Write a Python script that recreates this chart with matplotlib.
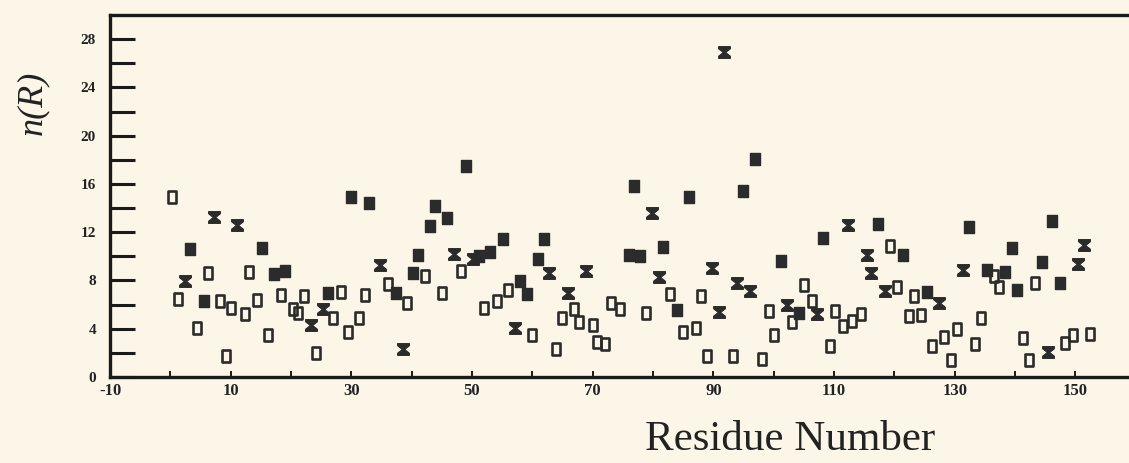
import matplotlib
matplotlib.use("Agg")
import matplotlib.pyplot as plt
from matplotlib.path import Path
from matplotlib.ticker import FixedLocator, NullFormatter

# ---- data ----
open_x = [0.2, 1.3, 4.5, 6.2, 8.2, 9.3, 10.1, 12.3, 13.1, 14.4, 16.2, 18.3, 20.3, 21.1,
          22.2, 24.2, 26.9, 28.3, 29.4, 31.3, 32.3, 36.0, 39.2, 42.2, 45.1, 48.2, 52.0,
          54.2, 55.9, 59.9, 63.9, 65.0, 66.9, 67.8, 70.0, 70.8, 72.0, 73.0, 74.5, 78.8,
          82.9, 85.0, 87.1, 88.0, 88.9, 93.2, 98.1, 99.2, 100.0, 103.1, 105.1, 106.3,
          109.3, 110.2, 111.5, 113.0, 114.4, 119.3, 120.5, 122.4, 123.3, 124.5, 126.3,
          128.3, 129.4, 130.4, 133.4, 134.4, 136.6, 137.3, 141.4, 142.4, 143.3, 148.3,
          149.6, 152.4]
open_y = [14.9, 6.5, 4.1, 8.6, 6.3, 1.7, 5.7, 5.2, 8.7, 6.4, 3.5, 6.8, 5.6, 5.3,
          6.7, 2.0, 4.9, 7.05, 3.7, 4.9, 6.8, 7.7, 6.15, 8.4, 7.0, 8.8, 5.75,
          6.3, 7.25, 3.45, 2.3, 4.9, 5.65, 4.55, 4.35, 2.9, 2.7, 6.15, 5.6, 5.3,
          6.85, 3.7, 4.1, 6.75, 1.7, 1.7, 1.5, 5.5, 3.5, 4.55, 7.65, 6.3,
          2.55, 5.5, 4.2, 4.6, 5.2, 10.85, 7.5, 5.05, 6.7, 5.1, 2.55,
          3.35, 1.45, 4.0, 2.7, 4.9, 8.4, 7.5, 3.25, 1.4, 7.75, 2.85,
          3.5, 3.6]

filled_x = [3.2, 5.6, 15.2, 17.2, 19.0, 26.2, 30.0, 33.0, 37.4, 40.2, 41.0, 43.1, 43.9,
            45.9, 49.0, 51.2, 53.0, 55.1, 58.0, 59.1, 61.0, 62.0, 76.0, 76.9, 77.9, 81.7,
            83.9, 86.0, 95.0, 96.9, 101.2, 104.2, 108.2, 117.3, 121.5, 125.4, 132.3,
            135.4, 138.4, 139.5, 140.3, 144.4, 146.2, 147.5]
filled_y = [10.6, 6.3, 10.7, 8.5, 8.8, 7.0, 14.9, 14.45, 7.0, 8.65, 10.1, 12.5, 14.2,
            13.2, 17.5, 10.0, 10.4, 11.4, 7.95, 6.9, 9.75, 11.4, 10.1, 15.8, 10.0, 10.8,
            5.55, 14.9, 15.4, 18.1, 9.6, 5.3, 11.55, 12.65, 10.1, 7.05, 12.45,
            8.9, 8.7, 10.7, 7.2, 9.5, 12.9, 7.8]

hour_x = [2.5, 7.2, 11.0, 23.3, 25.3, 34.7, 38.5, 47.0, 50.1, 57.1, 62.8, 65.9, 68.9,
          79.9, 81.0, 89.8, 90.9, 91.8, 94.0, 96.1, 102.2, 107.2, 112.3, 115.4, 116.1,
          118.5, 127.4, 131.4, 145.5, 150.4, 151.4]
hour_y = [7.95, 13.3, 12.6, 4.35, 5.65, 9.3, 2.3, 10.2, 9.8, 4.1, 8.65, 7.0, 8.8,
          13.6, 8.3, 9.05, 5.4, 26.9, 7.8, 7.1, 6.0, 5.25, 12.6, 10.1, 8.65,
          7.1, 6.1, 8.85, 2.05, 9.35, 10.9]

x_major = [-10, 10, 30, 50, 70, 90, 110, 130, 150]
x_major_labels = ["-10", "10", "30", "50", "70", "90", "110", "130", "150"]
x_minor = [0, 20, 40, 60, 80, 100, 120, 140]
y_major = [0, 4, 8, 12, 16, 20, 24, 28]
y_minor = [2, 6, 10, 14, 18, 22, 26]

# ---- style ----
bg = "#fbf6e8"
ink = "#2b2b2b"
serif = ["Liberation Serif", "DejaVu Serif"]

fig = plt.figure(figsize=(11.29, 4.63), dpi=100, facecolor=bg)
ax = fig.add_axes([110 / 1129, 86 / 463, 1019 / 1129, 362 / 463], facecolor=bg)
ax.set_xlim(-10, 158.9)
ax.set_ylim(0, 30)

rect = Path([(-0.4, -0.5), (0.4, -0.5), (0.4, 0.5), (-0.4, 0.5), (-0.4, -0.5)],
            [Path.MOVETO, Path.LINETO, Path.LINETO, Path.LINETO, Path.CLOSEPOLY])
hourglass = Path([(-0.5, 0.5), (0.5, 0.5), (0.5, 0.32), (0.1, 0.0), (0.5, -0.32),
                  (0.5, -0.5), (-0.5, -0.5), (-0.5, -0.32), (-0.1, 0.0), (-0.5, 0.32),
                  (-0.5, 0.5)],
                 [Path.MOVETO] + [Path.LINETO] * 9 + [Path.CLOSEPOLY])

ax.plot(open_x, open_y, linestyle="none", marker=rect, markersize=8,
        markerfacecolor="none", markeredgecolor=ink, markeredgewidth=1.9)
ax.plot(filled_x, filled_y, linestyle="none", marker=rect, markersize=9,
        markerfacecolor=ink, markeredgecolor=ink, markeredgewidth=1.0)
ax.plot(hour_x, hour_y, linestyle="none", marker=hourglass, markersize=8.5,
        markerfacecolor=ink, markeredgecolor=ink, markeredgewidth=0.8)

for side in ["left", "top", "bottom"]:
    ax.spines[side].set_linewidth(2.4)
    ax.spines[side].set_color("#1a1a1a")
ax.spines["right"].set_visible(False)

ax.yaxis.set_major_locator(FixedLocator(y_major))
ax.yaxis.set_minor_locator(FixedLocator(y_minor))
ax.xaxis.set_major_locator(FixedLocator(x_major))
ax.xaxis.set_minor_locator(FixedLocator(x_minor))
ax.set_xticklabels(x_major_labels)
ax.xaxis.set_minor_formatter(NullFormatter())

ax.tick_params(axis="y", which="both", direction="in", length=18, width=2.2,
               color="#1a1a1a", pad=10, labelsize=11)
ax.tick_params(axis="x", which="both", direction="in", length=4, width=1.4,
               color="#1a1a1a", pad=4, labelsize=12)
ax.tick_params(top=False, right=False)
for lab in ax.get_xticklabels() + ax.get_yticklabels():
    lab.set_fontfamily(serif)
    lab.set_fontweight("bold")
    lab.set_color("#222222")

fig.text(790 / 1129, 1 - 440 / 463, "Residue Number", ha="center", va="center",
         fontsize=31, family=serif, color="#222222")
fig.text(33 / 1129, 1 - 103 / 463, "n(R)", ha="center", va="center", rotation=90,
         fontsize=26, family=serif, style="italic", color="#222222")

fig.savefig("out.png", dpi=100, facecolor=bg)
